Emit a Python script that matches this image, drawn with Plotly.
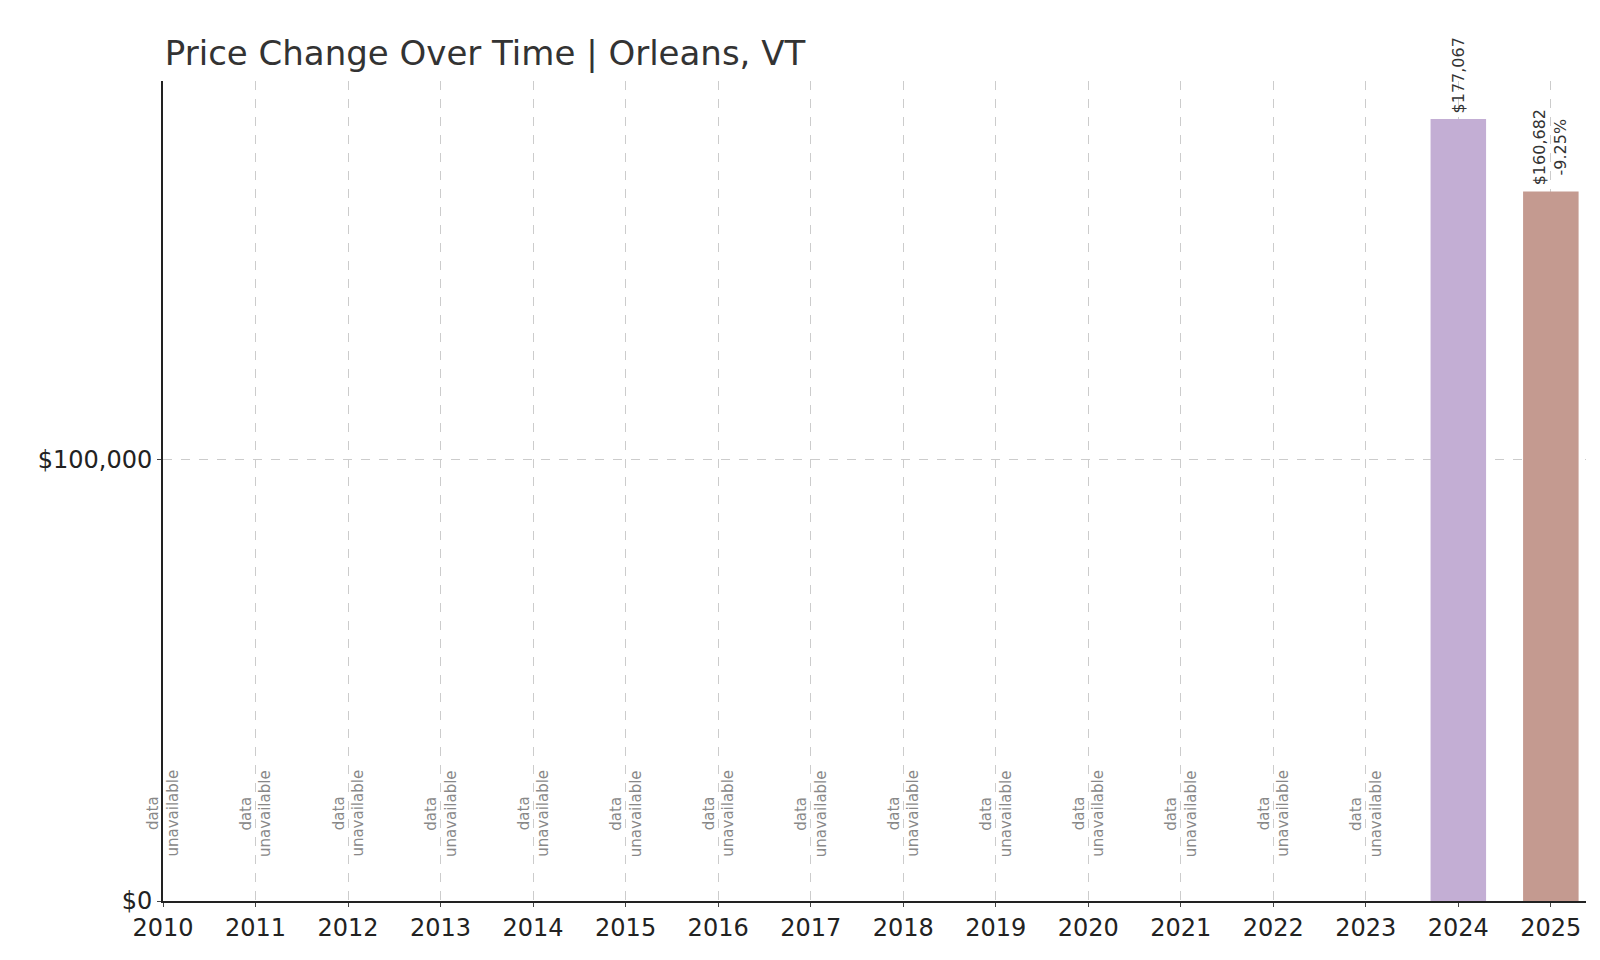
import plotly.graph_objects as go

years = list(range(2010, 2026))
bar_years = [2024, 2025]
bar_values = [177067, 160682]
bar_colors = ["#c3aed4", "#c49a90"]
bar_labels = ["$177,067", "$160,682<br>-9.25%"]
missing_years = list(range(2010, 2024))
title = "Price Change Over Time | Orleans, VT"

fig = go.Figure()
fig.add_trace(go.Bar(x=bar_years, y=bar_values, marker_color=bar_colors, width=0.6,
                     marker_line_width=0, showlegend=False, hoverinfo="skip"))
for y, v, t in zip(bar_years, bar_values, bar_labels):
    fig.add_annotation(x=y, y=v, text=t, textangle=-90, showarrow=False,
                       xanchor="center", yanchor="bottom", yshift=4,
                       font=dict(size=16, color="#333333", family="DejaVu Sans"))
for y in missing_years:
    fig.add_annotation(x=y, y=9500, text="data<br>unavailable", textangle=-90,
                       showarrow=False, xanchor="center", yanchor="bottom",
                       font=dict(size=15, color="#888888", family="DejaVu Sans"))

fig.update_layout(
    width=1600, height=960, plot_bgcolor="white", paper_bgcolor="white",
    margin=dict(l=155, r=22, t=73, b=67),
    title=dict(text=title, x=0.098, xanchor="left", y=0.965, yanchor="top",
               font=dict(size=34, color="#333333", family="DejaVu Sans")),
    font=dict(family="DejaVu Sans", size=24, color="#222222"),
)
fig.update_xaxes(range=[2010, 2025.38], tickmode="array", tickvals=years,
                 ticktext=[str(y) for y in years], showgrid=True,
                 gridcolor="#cccccc", griddash="dash", gridwidth=1,
                 showline=True, linecolor="#222222", linewidth=2, ticks="outside",
                 ticklen=4, zeroline=False)
fig.update_yaxes(range=[0, 185700], tickvals=[0, 100000], ticktext=["$0", "$100,000"],
                 showgrid=True, gridcolor="#cccccc", griddash="dash", gridwidth=1,
                 showline=True, linecolor="#222222", linewidth=2, ticks="outside",
                 ticklen=4, zeroline=False)
fig.write_html("out.html")
